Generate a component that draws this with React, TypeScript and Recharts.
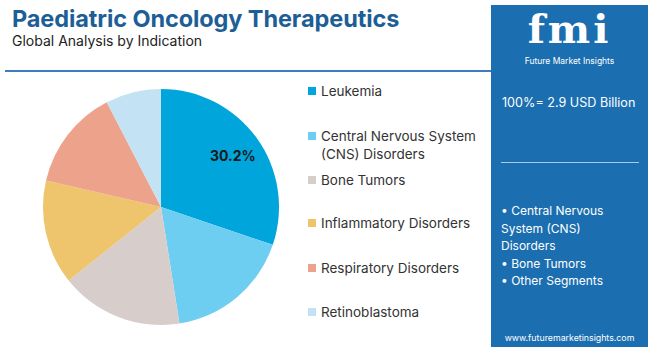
import React from 'react';
import { PieChart, Pie, Cell } from 'recharts';

const segments = [
  'Leukemia',
  'Central Nervous System (CNS) Disorders',
  'Bone Tumors',
  'Inflammatory Disorders',
  'Respiratory Disorders',
  'Retinoblastoma',
];
const shares = [30.2, 17.3, 16.8, 14.3, 13.8, 7.6];
const colors = ['#00a5dc', '#6ecef2', '#d7cdcb', '#eec46c', '#eda38b', '#c3e3f4'];
const legendTop = [82, 127, 171, 214, 259, 303];
const highlights = ['Central Nervous', 'System (CNS)', 'Disorders', 'Bone Tumors', 'Other Segments'];
const bulletRows = [true, false, false, true, true];

const FONT = "Inter, 'Open Sans', sans-serif";

const data = segments.map((name, i) => ({ name, value: shares[i] }));

// only the leading slice carries a label
const renderLabel = (props: any) => {
  const { cx, cy, midAngle, outerRadius, index, value } = props;
  if (index !== 0) return null;
  const r = outerRadius * 0.75;
  const rad = (Math.PI / 180) * midAngle;
  const x = cx + r * Math.cos(rad);
  const y = cy - r * Math.sin(rad);
  return (
    <text x={x} y={y} textAnchor="middle" dominantBaseline="central"
      fontSize={14} fontWeight={700} fill="#1a1a1a" fontFamily={FONT}>
      {value.toFixed(1)}%
    </text>
  );
};

const App: React.FC = () => {
  return (
    <div style={{ position: 'absolute', left: 0, top: 0, width: 650, height: 352, background: '#fff', fontFamily: FONT, overflow: 'hidden' }}>
      {/* header */}
      <div style={{ position: 'absolute', left: 12, top: 4, fontSize: 23.5, fontWeight: 700, color: '#1d5e96', letterSpacing: -0.1, whiteSpace: 'nowrap' }}>
        Paediatric Oncology Therapeutics
      </div>
      <div style={{ position: 'absolute', left: 12, top: 32, fontSize: 14, color: '#222', whiteSpace: 'nowrap' }}>
        Global Analysis by Indication
      </div>
      <div style={{ position: 'absolute', left: 5, top: 70, width: 487, height: 2, background: '#3d7cc0' }} />

      <div style={{ position: 'absolute', left: 0, top: 0 }}>
        <PieChart width={300} height={352}>
          <Pie
            data={data}
            dataKey="value"
            nameKey="name"
            cx={156}
            cy={202}
            outerRadius={118}
            startAngle={90}
            endAngle={-270}
            stroke="none"
            label={renderLabel}
            labelLine={false}
            isAnimationActive={false}
          >
            {data.map((d, i) => (
              <Cell key={d.name} fill={colors[i]} />
            ))}
          </Pie>
        </PieChart>
      </div>

      {/* legend */}
      {segments.map((name, i) => (
        <div key={name} style={{ position: 'absolute', left: 308, top: legendTop[i], width: 180, display: 'flex', alignItems: 'flex-start' }}>
          <div style={{ width: 8, height: 8, background: colors[i], marginTop: 5, marginRight: 5, flexShrink: 0 }} />
          <div style={{ fontSize: 13.5, lineHeight: '18px', color: '#333' }}>{name}</div>
        </div>
      ))}

      {/* side panel */}
      <div style={{ position: 'absolute', left: 491, top: 5, width: 157, height: 342, background: '#1b6eb0', color: '#fff' }}>
        <div style={{ position: 'absolute', left: 0, width: 157, top: 3, textAlign: 'center', fontFamily: "'DejaVu Serif', serif", fontWeight: 700, fontSize: 40, lineHeight: '42px', letterSpacing: 3 }}>
          fmi
        </div>
        <div style={{ position: 'absolute', left: 0, width: 157, top: 51, textAlign: 'center', fontSize: 8.5 }}>
          Future Market Insights
        </div>
        <div style={{ position: 'absolute', left: 11, top: 90, fontSize: 12.6, whiteSpace: 'nowrap' }}>
          100%= 2.9 USD Billion
        </div>
        <div style={{ position: 'absolute', left: 10, top: 157, width: 138, height: 1, background: '#a9cbe8' }} />
        {highlights.map((t, i) => (
          <div key={t} style={{ position: 'absolute', left: 10, top: 198 + i * 17.5, fontSize: 12, whiteSpace: 'nowrap' }}>
            {bulletRows[i] ? '• ' : ''}{t}
          </div>
        ))}
        <div style={{ position: 'absolute', left: 0, width: 157, top: 327, textAlign: 'center', fontSize: 8.8 }}>
          www.futuremarketinsights.com
        </div>
      </div>
    </div>
  );
};

export default App;
